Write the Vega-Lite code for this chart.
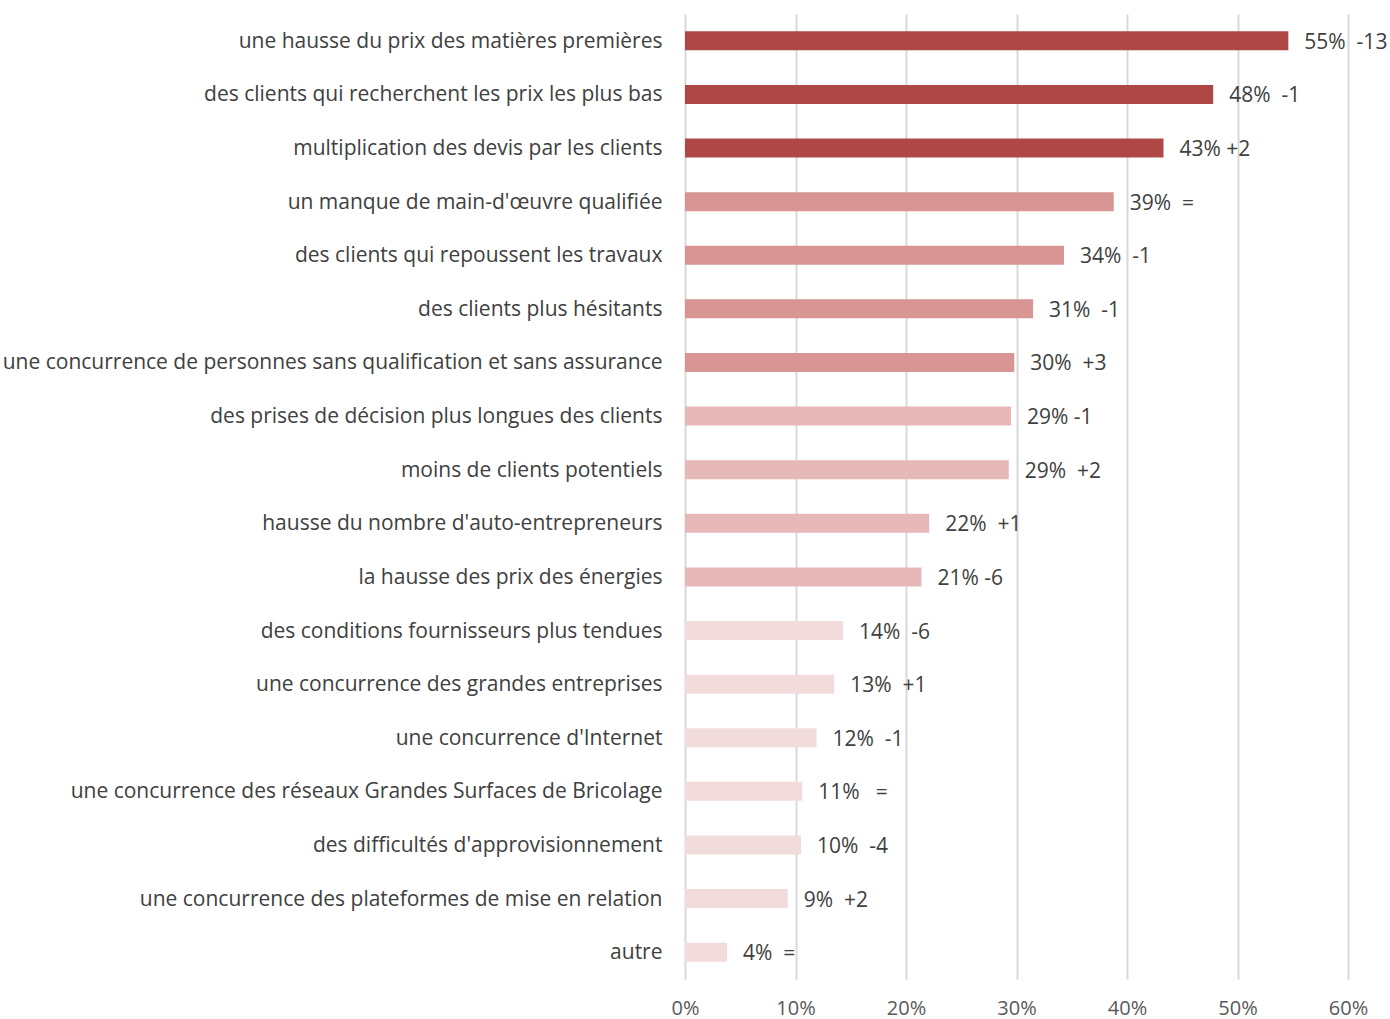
{
  "$schema": "https://vega.github.io/schema/vega-lite/v6.json",
  "width": 663,
  "height": 965,
  "autosize": {"type": "none"},
  "padding": {"left": 685, "top": 14, "right": 42, "bottom": 40},
  "background": "white",
  "config": {"view": {"stroke": null}, "font": "Open Sans"},
  "data": {"values": [
    {"cat": "une hausse du prix des matières premières", "v": 0.546, "label": "55%\u00a0\u00a0-13", "grp": "a"},
    {"cat": "des clients qui recherchent les prix les plus bas", "v": 0.478, "label": "48%\u00a0\u00a0-1", "grp": "a"},
    {"cat": "multiplication des devis par les clients", "v": 0.433, "label": "43% +2", "grp": "a"},
    {"cat": "un manque de main-d'œuvre qualifiée", "v": 0.388, "label": "39%\u00a0\u00a0=", "grp": "b"},
    {"cat": "des clients qui repoussent les travaux", "v": 0.343, "label": "34%\u00a0\u00a0-1", "grp": "b"},
    {"cat": "des clients plus hésitants", "v": 0.315, "label": "31%\u00a0\u00a0-1", "grp": "b"},
    {"cat": "une concurrence de personnes sans qualification et sans assurance", "v": 0.298, "label": "30%\u00a0\u00a0+3", "grp": "b"},
    {"cat": "des prises de décision plus longues des clients", "v": 0.295, "label": "29% -1", "grp": "c"},
    {"cat": "moins de clients potentiels", "v": 0.293, "label": "29%\u00a0\u00a0+2", "grp": "c"},
    {"cat": "hausse du nombre d'auto-entrepreneurs", "v": 0.221, "label": "22%\u00a0\u00a0+1", "grp": "c"},
    {"cat": "la hausse des prix des énergies", "v": 0.214, "label": "21% -6", "grp": "c"},
    {"cat": "des conditions fournisseurs plus tendues", "v": 0.143, "label": "14%\u00a0\u00a0-6", "grp": "d"},
    {"cat": "une concurrence des grandes entreprises", "v": 0.135, "label": "13%\u00a0\u00a0+1", "grp": "d"},
    {"cat": "une concurrence d'Internet", "v": 0.119, "label": "12%\u00a0\u00a0-1", "grp": "d"},
    {"cat": "une concurrence des réseaux Grandes Surfaces de Bricolage", "v": 0.106, "label": "11%\u00a0\u00a0\u00a0=", "grp": "d"},
    {"cat": "des difficultés d'approvisionnement", "v": 0.105, "label": "10%\u00a0\u00a0-4", "grp": "d"},
    {"cat": "une concurrence des plateformes de mise en relation", "v": 0.093, "label": "9%\u00a0\u00a0+2", "grp": "d"},
    {"cat": "autre", "v": 0.038, "label": "4%\u00a0\u00a0=", "grp": "d"}
  ]},
  "encoding": {
    "y": {
      "field": "cat", "type": "nominal", "sort": null, "title": null,
      "scale": {"paddingInner": 0, "paddingOuter": 0},
      "axis": {"domain": false, "ticks": false, "labelPadding": 23, "labelFontSize": 21, "labelOffset": 1, "labelColor": "#404040", "labelLimit": 700, "grid": false}
    },
    "x": {
      "field": "v", "type": "quantitative", "title": null,
      "scale": {"domain": [0, 0.6], "nice": false},
      "axis": {"format": ".0%", "values": [0, 0.1, 0.2, 0.3, 0.4, 0.5, 0.6], "domain": false, "ticks": false, "grid": true, "gridColor": "#D9D9D9", "gridWidth": 2, "labelFontSize": 20, "labelColor": "#595959", "labelPadding": 19, "labelFlush": false}
    }
  },
  "layer": [
    {
      "mark": {"type": "bar", "size": 19},
      "encoding": {
        "color": {"field": "grp", "type": "nominal", "legend": null,
          "scale": {"domain": ["a", "b", "c", "d"], "range": ["#AD4846", "#D99594", "#E6B8B7", "#F2DCDB"]}}
      }
    },
    {
      "mark": {"type": "text", "align": "left", "baseline": "middle", "dx": 16, "dy": 2, "fontSize": 21, "color": "#404040"},
      "encoding": {"text": {"field": "label"}}
    }
  ]
}
